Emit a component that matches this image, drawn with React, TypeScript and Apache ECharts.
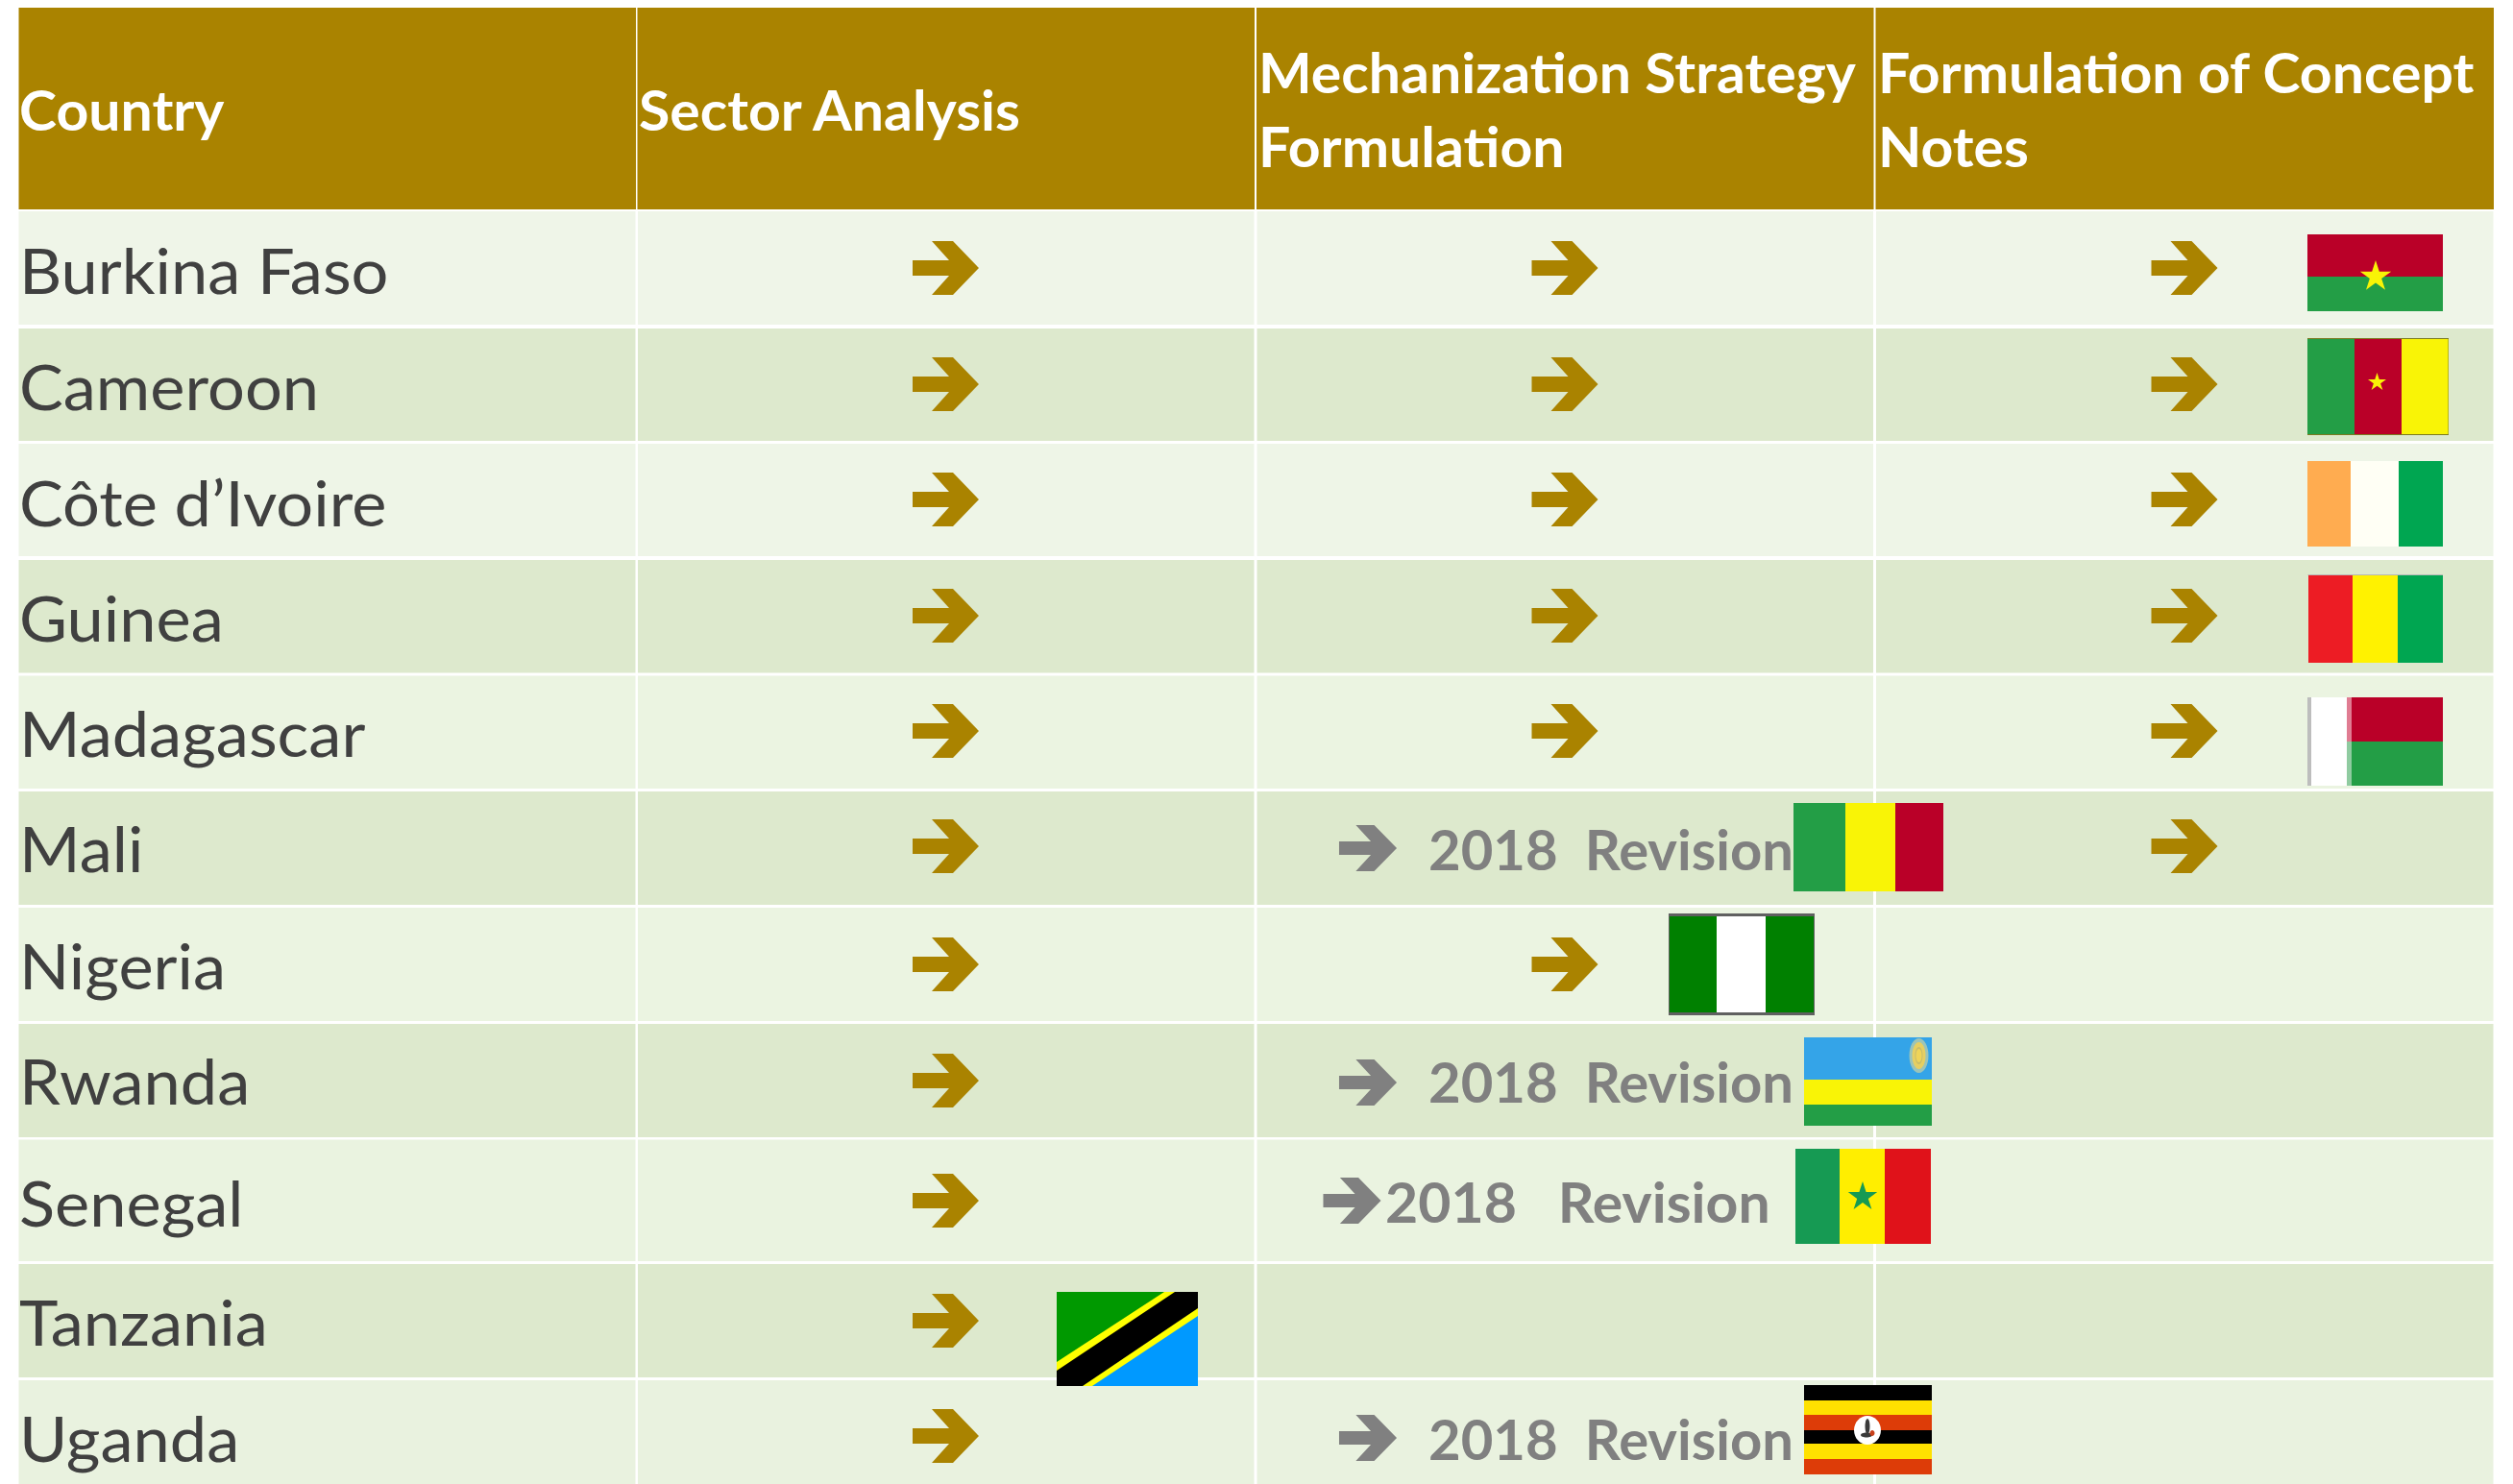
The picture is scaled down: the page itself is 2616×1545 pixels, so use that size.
import React, { useEffect, useRef } from "react";
import * as echarts from "echarts";

// ---- data ----
const columns = ["Country", "Sector Analysis", "Mechanization Strategy\nFormulation", "Formulation of Concept\nNotes"];
const countries = ["Burkina Faso", "Cameroon", "Côte d’Ivoire", "Guinea", "Madagascar", "Mali", "Nigeria", "Rwanda", "Senegal", "Tanzania", "Uganda"];
const sectorAnalysis = ["done", "done", "done", "done", "done", "done", "done", "done", "done", "done", "done"];
const strategyFormulation = ["done", "done", "done", "done", "done", "revision", "done", "revision", "revision", "none", "revision"];
const conceptNotes = ["done", "done", "done", "done", "done", "done", "none", "none", "none", "none", "none"];
const revisionLabels = ["2018  Revision", "2018  Revision", "2018   Revision", "2018  Revision"];

// ---- layout (page pixels) ----
const W = 2616, H = 1545;
const colEdges = [[19.5, 661.5], [664, 1305.5], [1308.5, 1950], [1953, 2595.5]];
const headerEdge = [8, 218];
const rowEdges = [[220, 338], [342, 459], [462, 579], [583, 700.5], [703.5, 821], [824, 942], [945, 1063], [1066, 1184], [1186.5, 1313], [1316, 1434], [1437, 1545]];
const rowFill = ["#EFF5E8", "#DDE9CD", "#EEF5E7", "#DDE9CD", "#EBF4E1", "#DDE9CD", "#EBF4E1", "#DDE9CD", "#EAF3E0", "#DDE9CD", "#E9F2DF"];
const rowCenter = [279, 400, 520, 641, 761, 881, 1004, 1125, 1250, 1375, 1495];
const rowBaseline = [306, 427, 548, 668, 788, 908, 1030, 1150, 1277, 1401, 1522];
const arrowX = [984.5, 1629, 2274];
const GOLD = "#AA8300", GREY = "#808080", DARK = "#404040";
const FONT = "Lato";
const ROW_FS = 65, HEAD_FS = 57, REV_FS = 57;
const CENTRAL = 0.387;
const arrowShape = [[-34.5, -8], [3.5, -8], [-14.5, -28], [7.5, -28], [34.5, 0], [7.5, 28], [-14.5, 28], [3.5, 8], [-34.5, 8]];

type Flag = { box: number[]; paint: any[] };
const R = "#BA0028", G = "#239E46", Y = "#F9F406";
const st = (cx: number, cy: number, r: number) => {
  const p: number[][] = [];
  for (let i = 0; i < 10; i++) {
    const a = -Math.PI / 2 + (i * Math.PI) / 5;
    const q = i % 2 ? r * 0.382 : r;
    p.push([cx + q * Math.cos(a), cy + q * Math.sin(a)]);
  }
  return p;
};
const rect = (x0: number, y0: number, x1: number, y1: number, fill: string) => ({ k: "r", x0, y0, x1, y1, fill });
const poly = (pts: number[][], fill: string) => ({ k: "p", pts, fill });
const ell = (cx: number, cy: number, rx: number, ry: number, fill: string) => ({ k: "e", cx, cy, rx, ry, fill });

const flags: Flag[] = [
  { box: [2402, 244, 2543, 324], paint: [rect(2402, 244, 2543, 288, R), rect(2402, 288, 2543, 324, G), poly(st(2473, 288, 17), Y)] },
  { box: [2402, 352, 2549, 453], paint: [rect(2402, 352, 2549, 453, "#7A7A20"), rect(2402, 353, 2451, 452, G), rect(2451, 353, 2500, 452, R), rect(2500, 353, 2548.5, 452, Y), poly(st(2474.5, 398, 10), Y)] },
  { box: [2402, 480, 2543, 569], paint: [rect(2402, 480, 2447, 569, "#FFAC50"), rect(2447, 480, 2497, 569, "#FFFFF5"), rect(2497, 480, 2543, 569, "#00A651")] },
  { box: [2402, 598, 2543, 690], paint: [rect(2402.5, 598, 2543, 599, "#B8B8B8"), rect(2403, 599, 2449, 690, "#ED1C24"), rect(2449, 599, 2496, 690, "#FFF200"), rect(2496, 599, 2543, 690, "#00A651")] },
  { box: [2402, 726, 2543, 818], paint: [rect(2402, 726, 2406, 818, "#BDBDBD"), rect(2406, 726, 2443, 818, "#FFFFFF"), rect(2443, 726, 2448, 772, "#E07C92"), rect(2443, 772, 2448, 818, "#8FCBA0"), rect(2448, 726, 2543, 772, R), rect(2448, 772, 2543, 818, G)] },
  { box: [1867, 836, 2023, 928], paint: [rect(1867, 836, 1921, 928, G), rect(1921, 836, 1973, 928, Y), rect(1973, 836, 2023, 928, R)] },
  { box: [1737, 951, 1889, 1057], paint: [rect(1737, 951, 1889, 1057, "#606060"), rect(1738, 954, 1787, 1054, "#008000"), rect(1787, 954, 1838, 1054, "#FFFFFF"), rect(1838, 954, 1888, 1054, "#008000")] },
  { box: [1878, 1080, 2011, 1172], paint: [rect(1878, 1080, 2011, 1124, "#34A4E8"), rect(1878, 1124, 2011, 1150, Y), rect(1878, 1150, 2011, 1172, G), ell(1997.5, 1099, 10, 18, "#9CC4B8"), ell(1997.5, 1099, 7, 14, "#E6CF62"), ell(1997.5, 1099, 4, 9, "#C9BD6A"), ell(1997.5, 1099, 3, 7, "#EFD458")] },
  { box: [1869, 1196, 2010, 1295], paint: [rect(1869, 1196, 1915, 1295, "#169A53"), rect(1915, 1196, 1962, 1295, "#FFEE00"), rect(1962, 1196, 2010, 1295, "#E0121A"), poly(st(1939, 1246, 16), "#169A53")] },
  { box: [1100, 1345, 1247, 1443], paint: [rect(1100, 1345, 1247, 1443, "#009900"), poly([[1247, 1345], [1247, 1443], [1100, 1443], [1100, 1418], [1212, 1345]], "#FFFF00"), poly([[1223, 1345], [1247, 1345], [1247, 1362], [1127, 1443], [1100, 1443], [1100, 1427]], "#000000"), poly([[1247, 1370], [1247, 1443], [1137, 1443]], "#0099FF")] },
  { box: [1878, 1442, 2011, 1535], paint: [rect(1878, 1442, 2011, 1458, "#000000"), rect(1878, 1458, 2011, 1473, "#FFE100"), rect(1878, 1473, 2011, 1489, "#DD3C08"), rect(1878, 1489, 2011, 1503, "#000000"), rect(1878, 1503, 2011, 1519, "#FFE100"), rect(1878, 1519, 2011, 1535, "#DD3C08"), ell(1944, 1489, 14, 15, "#FFFFFF"), ell(1944, 1485, 2.5, 8, "#3A3A3A"), ell(1943, 1494, 6, 2.5, "#3A3A3A"), ell(1949, 1492, 2.5, 3, "#C8401C")] },
];

// ---- drawing helpers; everything goes through the axes ----
function text(api: any, x: number, baseline: number, s: string, fs: number, weight: string, fill: string, scaleX = 1) {
  const [px, py] = api.coord([x, baseline - CENTRAL * fs]);
  return {
    type: "text", x: px, y: py, scaleX, originX: 0,
    style: { text: s, fill, font: `${weight} ${fs}px ${FONT}`, textAlign: "left", textVerticalAlign: "middle" },
  };
}
function box(api: any, x0: number, y0: number, x1: number, y1: number, fill: string) {
  const a = api.coord([x0, y0]), b = api.coord([x1, y1]);
  return { type: "rect", shape: { x: a[0], y: a[1], width: b[0] - a[0], height: b[1] - a[1] }, style: { fill } };
}
function arrow(api: any, cx: number, cy: number, sx: number, sy: number, fill: string) {
  return { type: "polygon", shape: { points: arrowShape.map(([dx, dy]) => api.coord([cx + dx * sx, cy + dy * sy])) }, style: { fill } };
}

const HX = 1.035, RX = 1.055, VX = 1.018, VX_SEN = 1.035;

export default function App() {
  const ref = useRef<HTMLDivElement>(null);
  useEffect(() => {
    document.body.style.margin = "0";
    const chart = echarts.init(ref.current!, undefined, { renderer: "svg" });
    chart.setOption({
      animation: false,
      backgroundColor: "#FFFFFF",
      grid: { left: 0, top: 0, width: W, height: H },
      xAxis: { type: "value", min: 0, max: W, show: false },
      yAxis: { type: "value", min: 0, max: H, inverse: true, show: false },
      series: [
        {
          type: "custom", name: "header", coordinateSystem: "cartesian2d", clip: false, z: 1,
          data: columns.map((_, i) => [i]),
          renderItem: (_: any, api: any) => {
            const i = api.value(0);
            const kids: any[] = [box(api, colEdges[i][0] - (i ? 0.5 : 0), headerEdge[0], colEdges[i][1] + 0.5, headerEdge[1], GOLD)];
            const lines = columns[i].split("\n");
            const x = [20, 665, 1310, 1955][i];
            if (lines.length === 1) kids.push(text(api, x, 136, lines[0], HEAD_FS, "bold", "#FFFFFF", HX));
            else lines.forEach((l, j) => kids.push(text(api, x, j ? 174 : 97, l, HEAD_FS, "bold", "#FFFFFF", HX)));
            return { type: "group", children: kids };
          },
        },
        {
          type: "custom", name: "rows", coordinateSystem: "cartesian2d", clip: false, z: 2,
          data: countries.map((_, i) => [i]),
          renderItem: (_: any, api: any) => {
            const i = api.value(0);
            const kids: any[] = colEdges.map((c) => box(api, c[0], rowEdges[i][0], c[1], rowEdges[i][1], rowFill[i]));
            kids.push(text(api, 20, rowBaseline[i], countries[i], ROW_FS, "normal", DARK, RX));
            return { type: "group", children: kids };
          },
        },
        {
          type: "custom", name: "status", coordinateSystem: "cartesian2d", clip: false, z: 3,
          data: countries.map((_, i) => [i]),
          renderItem: (_: any, api: any) => {
            const i = api.value(0);
            const kids: any[] = [];
            const cy = rowCenter[i];
            if (sectorAnalysis[i] === "done") kids.push(arrow(api, arrowX[0], cy, 1, 1, GOLD));
            if (strategyFormulation[i] === "done") kids.push(arrow(api, arrowX[1], cy, 1, 1, GOLD));
            if (strategyFormulation[i] === "revision") {
              const n = strategyFormulation.slice(0, i).filter((s) => s === "revision").length;
              const sen = countries[i] === "Senegal";
              kids.push(arrow(api, sen ? 1407.5 : 1424, cy + (sen ? 0 : 2), 0.87, 0.86, GREY));
              kids.push(text(api, sen ? 1442 : 1487, rowBaseline[i] - (sen ? 4 : 2), revisionLabels[n], REV_FS, "bold", GREY, sen ? VX_SEN : VX));
            }
            if (conceptNotes[i] === "done") kids.push(arrow(api, arrowX[2], cy, 1, 1, GOLD));
            return { type: "group", children: kids };
          },
        },
        {
          type: "custom", name: "flags", coordinateSystem: "cartesian2d", clip: false, z: 4,
          data: countries.map((_, i) => [i]),
          renderItem: (_: any, api: any) => {
            const f = flags[api.value(0)];
            const kids = f.paint.map((p: any) => {
              if (p.k === "r") return box(api, p.x0, p.y0, p.x1, p.y1, p.fill);
              if (p.k === "p") return { type: "polygon", shape: { points: p.pts.map((q: number[]) => api.coord(q)) }, style: { fill: p.fill } };
              const c = api.coord([p.cx, p.cy]);
              return { type: "ellipse", shape: { cx: c[0], cy: c[1], rx: p.rx, ry: p.ry }, style: { fill: p.fill } };
            });
            return { type: "group", children: kids };
          },
        },
      ],
    });
    return () => chart.dispose();
  }, []);
  return <div ref={ref} style={{ width: W, height: H, position: "absolute", left: 0, top: 0, fontVariantLigatures: "none" }} />;
}
